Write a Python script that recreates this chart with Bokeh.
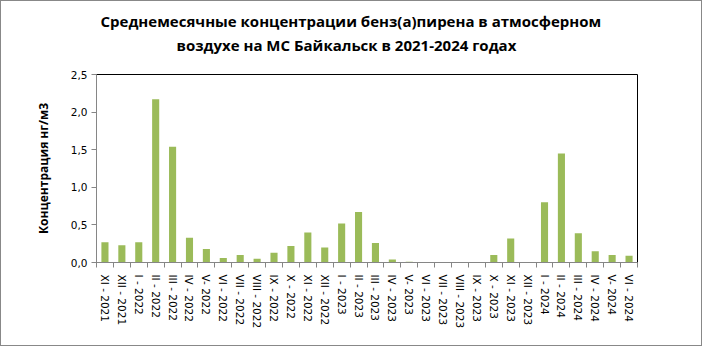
from bokeh.plotting import figure
from bokeh.models import FixedTicker, Title, ColumnDataSource
from bokeh.layouts import column
from bokeh.embed import file_html
from bokeh.resources import INLINE

months = ["XI - 2021", "XII - 2021", "I - 2022", "II - 2022", "III - 2022", "IV - 2022",
          "V- 2022", "VI - 2022", "VII - 2022", "VIII - 2022", "IX - 2022", "X - 2022",
          "XI - 2022", "XII - 2022", "I - 2023", "II - 2023", "III - 2023", "IV - 2023",
          "V- 2023", "VI - 2023", "VII - 2023", "VIII - 2023", "IX - 2023", "X - 2023",
          "XI - 2023", "XII - 2023", "I - 2024", "II - 2024", "III - 2024", "IV - 2024",
          "V- 2024", "VI - 2024"]
values = [0.27, 0.23, 0.27, 2.17, 1.54, 0.33, 0.18, 0.06, 0.10, 0.05, 0.13, 0.22,
          0.40, 0.20, 0.52, 0.67, 0.26, 0.04, 0.01, 0.0, 0.0, 0.0, 0.0, 0.10,
          0.32, 0.0, 0.80, 1.45, 0.39, 0.15, 0.10, 0.09]
y_ticks = [0.0, 0.5, 1.0, 1.5, 2.0, 2.5]
y_tick_labels = ["0,0", "0,5", "1,0", "1,5", "2,0", "2,5"]
title_lines = ["Среднемесячные концентрации бенз(а)пирена в атмосферном",
               "воздухе на МС Байкальск  в 2021-2024 годах"]
y_label = "Концентрация нг/м3"

n = len(months)
centers = [i + 0.5 for i in range(n)]
bounds = [float(i) for i in range(n + 1)]
src = ColumnDataSource(dict(x=centers, top=values))

W, H = 702, 346
TH = 56                      # height of the title strip
BL, BR, BT, BB = 95, 66, 74 - TH, 84
border = "1px solid #888888"

# ---- title strip ----
t = figure(width=W, height=TH, x_axis_type=None, y_axis_type=None,
           output_backend="svg", toolbar_location=None,
           min_border_left=BL, min_border_right=BR, min_border_top=TH - 1,
           min_border_bottom=0)
t.outline_line_color = None
t.xgrid.visible = False
t.ygrid.visible = False
t.styles = {"border-left": border, "border-right": border, "border-top": border,
            "box-sizing": "border-box"}
title_standoffs = [0, 4]
title_offsets = [4, 80]
for txt, so, off in reversed(list(zip(title_lines, title_standoffs, title_offsets))):
    t.add_layout(Title(text=txt, align="left", offset=off, standoff=so,
                       text_font="Open Sans", text_font_size="15px",
                       text_font_style="bold", text_color="#000000"), "above")

# ---- main chart ----
p = figure(width=W, height=H - TH, x_range=(0, n), y_range=(0, 2.5),
           output_backend="svg", toolbar_location=None,
           min_border_left=BL, min_border_right=BR, min_border_top=BT, min_border_bottom=BB)
p.styles = {"border-left": border, "border-right": border, "border-bottom": border,
            "box-sizing": "border-box"}

p.vbar(x="x", top="top", width=0.42, source=src, color="#9BBB59", line_color=None)

p.xgrid.visible = False
p.ygrid.visible = False
p.outline_line_color = "#000000"
p.outline_line_width = 1

xa = p.xaxis[0]
xa.ticker = FixedTicker(ticks=centers, minor_ticks=bounds)
xa.major_label_overrides = {c: m for c, m in zip(centers, months)}
xa.major_label_orientation = "vertical"
xa.major_tick_out = 0
xa.major_tick_in = 0
xa.minor_tick_out = 5
xa.minor_tick_in = 0
xa.minor_tick_line_color = "#868686"
xa.axis_line_color = "#868686"
xa.major_label_text_font = "DejaVu Sans"
xa.major_label_text_font_size = "10.5px"
xa.major_label_text_color = "#000000"
xa.major_label_standoff = 7

ya = p.yaxis[0]
ya.ticker = FixedTicker(ticks=y_ticks, minor_ticks=[])
ya.major_label_overrides = {tk: lb for tk, lb in zip(y_ticks, y_tick_labels)}
ya.major_tick_out = 5
ya.major_tick_in = 0
ya.major_tick_line_color = "#868686"
ya.axis_line_color = "#868686"
ya.major_label_text_font = "DejaVu Sans"
ya.major_label_text_font_size = "10.5px"
ya.major_label_text_color = "#000000"
ya.major_label_standoff = 4
ya.axis_label = y_label
ya.axis_label_text_font = "Open Sans"
ya.axis_label_text_font_style = "bold"
ya.axis_label_text_font_size = "12px"
ya.axis_label_text_color = "#000000"
ya.axis_label_standoff = 16

layout = column(t, p, spacing=0)
open("out.html", "w").write(file_html(layout, INLINE))
